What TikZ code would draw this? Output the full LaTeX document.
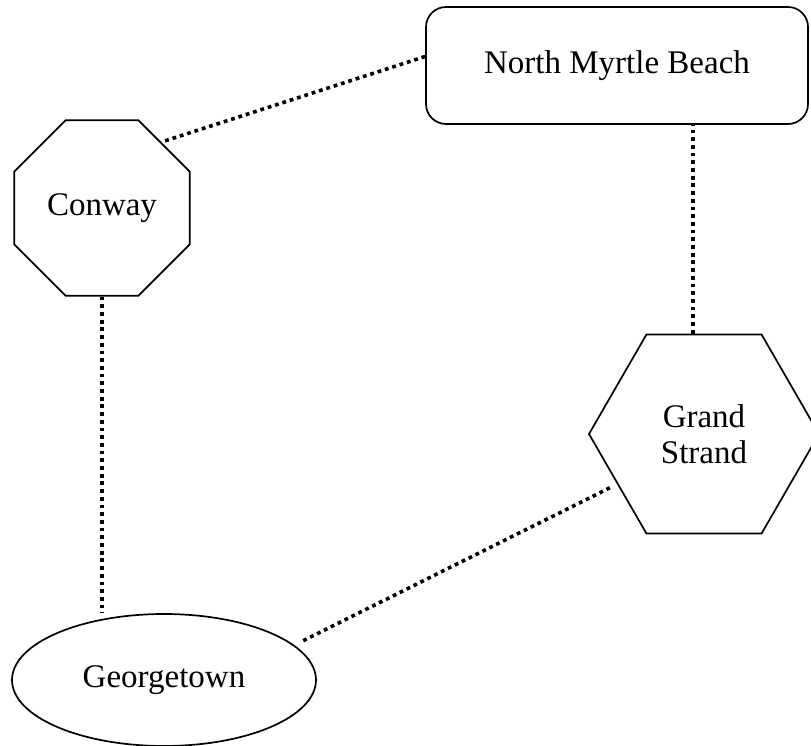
\documentclass[tikz,border=0pt]{standalone}
\usepackage{fontspec}
\setmainfont{Liberation Serif}
\usetikzlibrary{shapes,positioning,calc}

\begin{document}
\begin{tikzpicture}[x=1pt,y=-1pt,
        place/.style={draw, line width=1.7pt, font=\fontsize{33}{36}\selectfont, align=center, inner sep=0pt},
        road/.style={line width=3.6pt, dash pattern=on 3.8pt off 3.9pt}]
    \useasboundingbox (0,0) rectangle (811,746);
    \node[place, rounded corners=20pt, minimum width=382pt, minimum height=117pt] (nmb) at (617,65.5) {North Myrtle Beach};
    \node[place, regular polygon, regular polygon sides=8, minimum size=190pt] (cw) at (102,208) {Conway};
    \node[place, regular polygon, regular polygon sides=6, minimum size=230pt] (gs) at (704,434) {Grand\\Strand};
    \node[place, ellipse, minimum width=304pt, minimum height=132pt] (ge) at (164,680) {Georgetown};
    \draw[road] ([yshift=9pt]nmb.west) -- (cw.48);
    \draw[road] ([xshift=-11pt]gs.north) -- ([xshift=-11pt]gs.north |- nmb.south);
    \draw[road] (cw.south) -- (cw.south |- ge.north);
    \draw[road, shorten <=8pt, shorten >=8pt] (gs.210) -- (ge.15);
\end{tikzpicture}
\end{document}
